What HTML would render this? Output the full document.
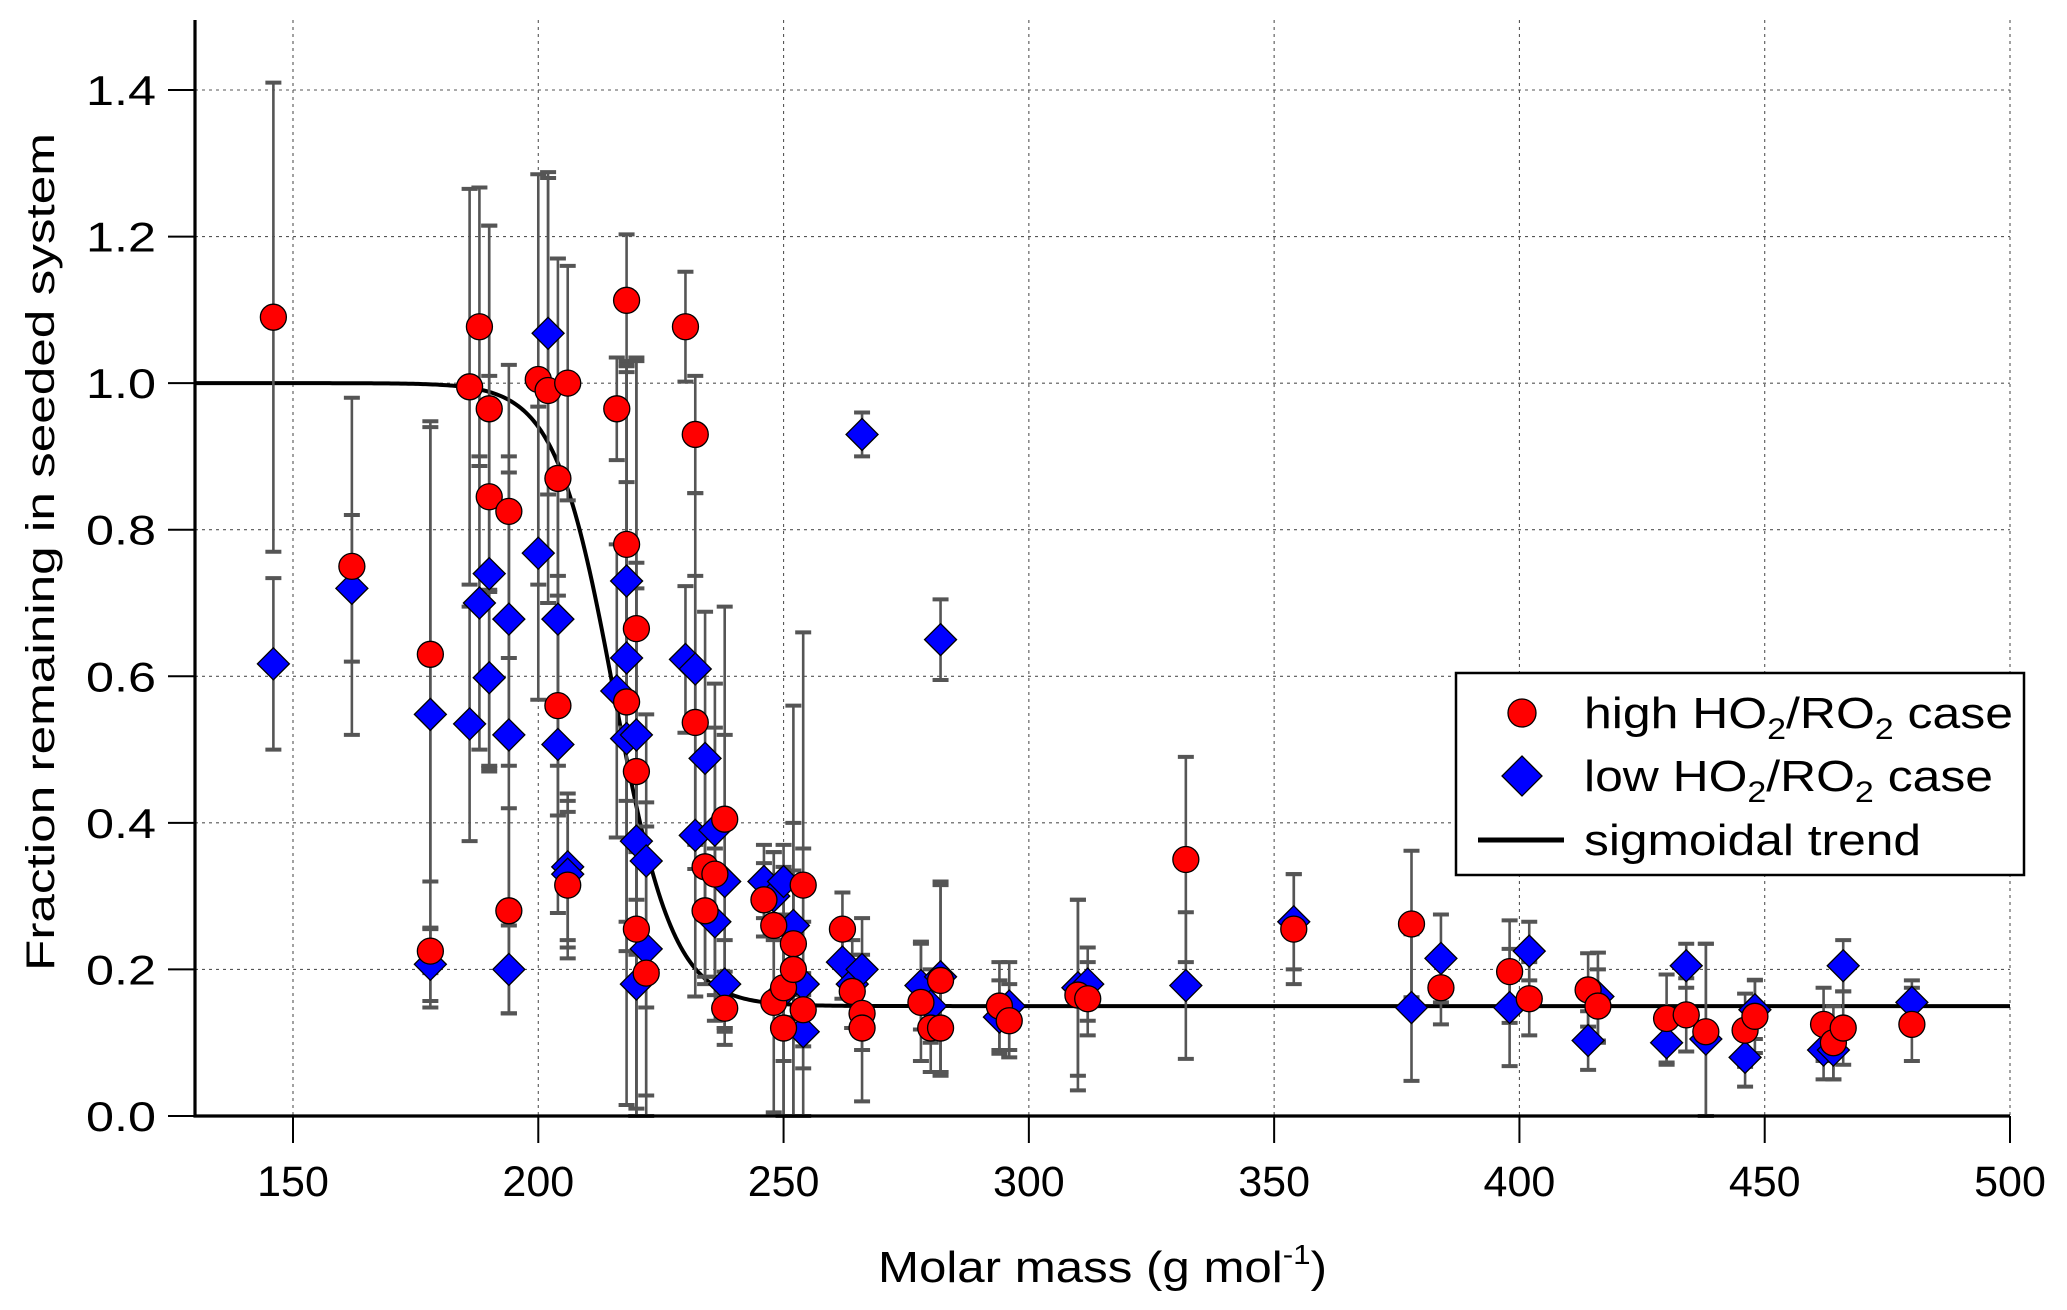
<!DOCTYPE html>
<html><head><meta charset="utf-8"><style>
html,body{margin:0;padding:0;background:#fff;}
svg{display:block;font-family:"Liberation Sans",Arial,sans-serif;}
</style></head><body>
<svg id="chart" width="2067" height="1310" viewBox="0 0 2067 1310" xmlns="http://www.w3.org/2000/svg">
<g id="grid"></g>
<g id="sigmoid"></g>
<g id="errs"></g>
<g id="marks"></g>
<g id="axes"></g>
<text transform="translate(54,552) rotate(-90)" text-anchor="middle" font-size="40" textLength="838" lengthAdjust="spacingAndGlyphs">Fraction remaining in seeded system</text>
<text x="878" y="1282" font-size="44" textLength="449" lengthAdjust="spacingAndGlyphs">Molar mass (g mol<tspan dy="-18" font-size="28">-1</tspan><tspan dy="18">)</tspan></text>
<g>
<rect x="1456" y="673" width="568" height="202" fill="#fff" stroke="#000" stroke-width="2.5"/>
<circle cx="1522" cy="713" r="14" fill="#f00" stroke="#000" stroke-width="1.3"/>
<text x="1584" y="728" font-size="44" textLength="429" lengthAdjust="spacingAndGlyphs">high HO<tspan dy="11" font-size="30">2</tspan><tspan dy="-11">/RO</tspan><tspan dy="11" font-size="30">2</tspan><tspan dy="-11"> case</tspan></text>
<polygon points="1522,756 1542,776 1522,796 1502,776" fill="#00f" stroke="#000" stroke-width="1.3"/>
<text x="1584" y="791" font-size="44" textLength="409" lengthAdjust="spacingAndGlyphs">low HO<tspan dy="11" font-size="30">2</tspan><tspan dy="-11">/RO</tspan><tspan dy="11" font-size="30">2</tspan><tspan dy="-11"> case</tspan></text>
<line x1="1478" y1="840" x2="1564" y2="840" stroke="#000" stroke-width="5"/>
<text x="1584" y="855" font-size="44" textLength="337" lengthAdjust="spacingAndGlyphs">sigmoidal trend</text>
</g>
</svg>
<script>
const xTicks=[150,200,250,300,350,400,450,500];
const yTicks=[0.0,0.2,0.4,0.6,0.8,1.0,1.2,1.4];
const highX=[146,162,178,178,186,188,190,190,194,194,200,202,204,204,206,206,216,218,218,218,220,220,220,222,230,232,232,234,234,236,238,238,246,248,248,250,250,252,252,254,254,262,264,266,266,278,280,282,282,294,296,310,312,332,354,378,384,398,402,414,416,430,434,438,446,448,462,464,466,480];
const highY=[1.09,0.75,0.63,0.225,0.995,1.077,0.965,0.845,0.825,0.28,1.005,0.99,0.87,0.56,1.0,0.315,0.965,1.113,0.78,0.565,0.665,0.47,0.255,0.195,1.077,0.93,0.537,0.34,0.28,0.33,0.405,0.147,0.295,0.26,0.155,0.175,0.12,0.235,0.2,0.315,0.145,0.255,0.17,0.14,0.12,0.155,0.12,0.185,0.12,0.15,0.13,0.165,0.16,0.35,0.255,0.262,0.175,0.197,0.16,0.172,0.15,0.133,0.138,0.115,0.117,0.136,0.125,0.1,0.12,0.125];
const highErr=[0.32,0.23,0.31,0.03,0.27,0.19,0.25,0.37,0.2,0.14,0.28,0.29,0.3,0.15,0.16,0.1,0.07,0.09,0.25,0.3,0.37,0.25,0.26,0.2,0.075,0.08,0.2,0.15,0.1,0.2,0.29,0.05,0.05,0.1,0.15,0.1,0.12,0.1,0.2,0.05,0.05,0.05,0.05,0.05,0.1,0.08,0.06,0.13,0.06,0.06,0.05,0.13,0.05,0.14,0.075,0.1,0.05,0.07,0.05,0.05,0.05,0.06,0.05,0.12,0.05,0.05,0.05,0.05,0.05,0.05];
const lowX=[146,162,178,178,186,188,190,190,194,194,194,200,202,204,204,206,206,216,218,218,218,220,220,220,222,222,230,232,232,234,236,236,238,238,246,248,250,250,252,254,254,262,264,266,266,278,280,282,282,294,296,310,312,332,354,378,384,398,402,414,416,430,434,438,446,448,462,464,466,480];
const lowY=[0.617,0.72,0.548,0.207,0.535,0.7,0.74,0.598,0.678,0.52,0.2,0.768,1.068,0.678,0.507,0.34,0.33,0.58,0.73,0.625,0.515,0.52,0.375,0.18,0.348,0.228,0.623,0.61,0.383,0.488,0.39,0.265,0.32,0.18,0.32,0.3,0.32,0.17,0.26,0.18,0.115,0.21,0.18,0.2,0.93,0.178,0.15,0.65,0.19,0.135,0.15,0.175,0.18,0.178,0.265,0.148,0.215,0.148,0.225,0.103,0.163,0.1,0.205,0.105,0.08,0.145,0.09,0.09,0.205,0.155];
const lowErr=[0.117,0.1,0.4,0.05,0.16,0.2,0.27,0.12,0.2,0.38,0.06,0.2,0.22,0.2,0.23,0.1,0.1,0.2,0.3,0.4,0.5,0.51,0.38,0.18,0.2,0.2,0.1,0.24,0.22,0.2,0.2,0.1,0.2,0.06,0.05,0.06,0.05,0.17,0.3,0.48,0.05,0.05,0.06,0.07,0.03,0.06,0.05,0.055,0.13,0.05,0.06,0.12,0.05,0.1,0.065,0.1,0.06,0.08,0.04,0.04,0.06,0.03,0.03,0.13,0.04,0.04,0.04,0.04,0.035,0.03];
const sigParams=[0.15,1.0,215.5,6]; // bottom, top, midpoint, width

const NS="http://www.w3.org/2000/svg";
const X0=130,X1=500;
const AXL=195,AXB=1116,AXR=2010,AXT=20;
function sx(v){return 293+(v-150)*(1717/350);}
function sy(v){return 1116-v*(1026/1.4);}
function mk(tag,attrs,parent){const e=document.createElementNS(NS,tag);for(const k in attrs)e.setAttribute(k,attrs[k]);parent.appendChild(e);return e;}
const grid=document.getElementById('grid'),axes=document.getElementById('axes');
xTicks.forEach(t=>{
  const g=mk('line',{x1:sx(t),x2:sx(t),y1:AXT,y2:AXB,stroke:'#555','stroke-width':1.1,'stroke-dasharray':'3,4'},grid);
  
  
  const tk=mk('line',{x1:sx(t),x2:sx(t),y1:AXB,y2:AXB+27,stroke:'#000','stroke-width':2},axes);
  
  
  const tx=mk('text',{x:sx(t),y:1196,'text-anchor':'middle','font-size':43},axes);
  
  
  tx.textContent=t;
});
yTicks.forEach(t=>{
  const g=mk('line',{x1:AXL,x2:AXR,y1:sy(t),y2:sy(t),stroke:'#555','stroke-width':1.1,'stroke-dasharray':'3,4'},grid);
  
  
  const tk=mk('line',{x1:AXL-27,x2:AXL,y1:sy(t),y2:sy(t),stroke:'#000','stroke-width':2},axes);
  
  
  const tx=mk('text',{x:156,y:sy(t)+15,'text-anchor':'end','font-size':42,textLength:70,lengthAdjust:'spacingAndGlyphs'},axes);
  
  
  tx.textContent=t.toFixed(1);
});
const ax1=mk('line',{x1:AXL,x2:AXL,y1:AXT,y2:AXB+1.5,stroke:'#000','stroke-width':3.2},axes);


const ax2=mk('line',{x1:AXL-1.5,x2:AXR,y1:AXB,y2:AXB,stroke:'#000','stroke-width':3.2},axes);



let d='';
for(let v=X0;v<=X1;v+=0.5){
  const y=sigParams[0]+(sigParams[1]-sigParams[0])/(1+Math.exp((v-sigParams[2])/sigParams[3]));
  d+=(d?'L':'M')+sx(v).toFixed(2)+','+sy(y).toFixed(2);
}
const sp=mk('path',{d:d,fill:'none',stroke:'#000','stroke-width':4},document.getElementById('sigmoid'));



const errs=document.getElementById('errs'),marks=document.getElementById('marks');
function errbar(x,y,e,name){
  const lo=Math.max(0,y-e),hi=y+e;
  const g=mk('g',{stroke:'#555','stroke-width':2.6},errs);
  
  
  mk('line',{x1:sx(x),x2:sx(x),y1:sy(lo),y2:sy(hi)},g);
  mk('line',{x1:sx(x)-8,x2:sx(x)+8,y1:sy(lo),y2:sy(lo),'stroke-width':4},g);
  mk('line',{x1:sx(x)-8,x2:sx(x)+8,y1:sy(hi),y2:sy(hi),'stroke-width':4},g);
}
highX.forEach((x,i)=>errbar(x,highY[i],highErr[i],'high-error-bar'));
lowX.forEach((x,i)=>errbar(x,lowY[i],lowErr[i],'low-error-bar'));
lowX.forEach((x,i)=>{
  const cx=sx(x),cy=sy(lowY[i]),r=16;
  const p=mk('polygon',{points:`${cx},${cy-r} ${cx+r},${cy} ${cx},${cy+r} ${cx-r},${cy}`,fill:'#00f',stroke:'#000','stroke-width':1.3},marks);
  
  
});
highX.forEach((x,i)=>{
  const c=mk('circle',{cx:sx(x),cy:sy(highY[i]),r:13,fill:'#f00',stroke:'#000','stroke-width':1.3},marks);
  
  
});
</script>
</body></html>
